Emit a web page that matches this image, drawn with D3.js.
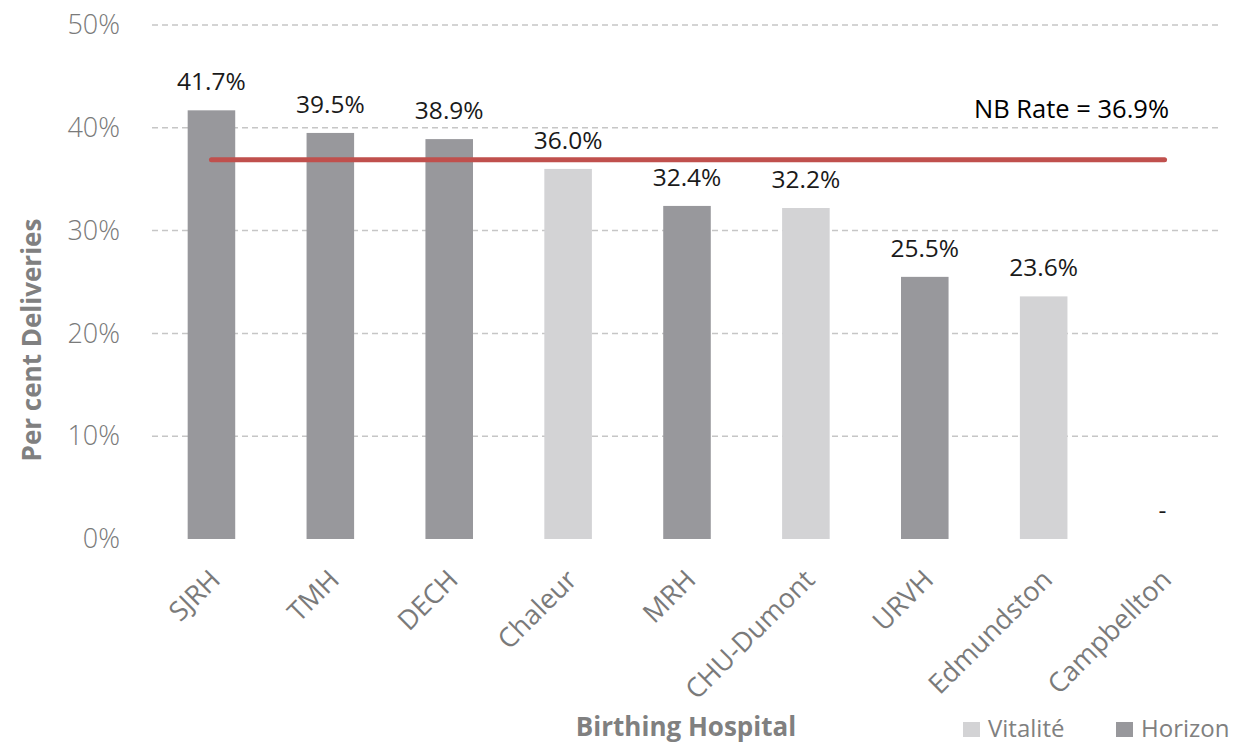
<!DOCTYPE html>
<html><head><meta charset="utf-8">
<script src="https://cdn.jsdelivr.net/npm/d3@7"></script>
<style>body{margin:0;background:#fff;font-family:"Open Sans",sans-serif;}</style>
</head><body><svg id="c" width="1251" height="744"></svg>
<script>
const categories = ["SJRH","TMH","DECH","Chaleur","MRH","CHU-Dumont","URVH","Edmundston","Campbellton"];
const values = [41.7, 39.5, 38.9, 36.0, 32.4, 32.2, 25.5, 23.6, null];
const groups = ["Horizon","Horizon","Horizon","Vitalité","Horizon","Vitalité","Horizon","Vitalité","Vitalité"];
const yTicks = [0, 10, 20, 30, 40, 50];
const nbRate = 36.9;
const legendItems = ["Vitalité","Horizon"];
const colors = {"Horizon":"#98989c","Vitalité":"#d3d3d5"};

const svg = d3.select("#c");
const m = {l:152, r:1222, t:25, b:539};
const x = d3.scaleBand().domain(categories).range([m.l, m.r]).paddingInner(0.6).paddingOuter(0.3);
const y = d3.scaleLinear().domain([0,50]).range([m.b, m.t]);

// grid
svg.append("g").selectAll("line").data(yTicks.filter(d=>d>0)).join("line")
  .attr("x1", m.l).attr("x2", m.r).attr("y1", d=>y(d)).attr("y2", d=>y(d))
  .attr("stroke","#c6c6c6").attr("stroke-width",1.5).attr("stroke-dasharray","6,4");

// y axis labels
const yAxis = svg.append("g").attr("transform",`translate(${m.l},0)`)
  .call(d3.axisLeft(y).tickValues(yTicks).tickFormat(d=>d+"%").tickSize(0).tickPadding(32));
yAxis.select(".domain").remove();
yAxis.selectAll("text").attr("font-family","Open Sans").attr("font-size",27).attr("font-weight",300).attr("fill","#7a7a7a");

// bars
svg.append("g").selectAll("rect").data(categories.map((c,i)=>({c,v:values[i],g:groups[i]})).filter(d=>d.v!=null)).join("rect")
  .attr("x", d=>x(d.c)).attr("width", x.bandwidth())
  .attr("y", d=>y(d.v)).attr("height", d=>y(0)-y(d.v))
  .attr("fill", d=>colors[d.g]);

// value labels
svg.append("g").selectAll("text").data(categories.map((c,i)=>({c,v:values[i]}))).join("text")
  .attr("x", d=>x(d.c)+x.bandwidth()/2).attr("y", d=>y(d.v==null?0:d.v)-20)
  .attr("text-anchor","middle").attr("font-size",24.5).attr("font-weight",400).attr("fill","#1a1a1a")
  .text(d=>d.v==null?"-":d.v.toFixed(1)+"%");

// NB rate line
svg.append("line")
  .attr("x1", x(categories[0])+x.bandwidth()/2).attr("x2", x(categories[categories.length-1])+x.bandwidth()/2+2)
  .attr("y1", y(nbRate)).attr("y2", y(nbRate))
  .attr("stroke","#c0504d").attr("stroke-width",5).attr("stroke-linecap","round");
svg.append("text").attr("x",1169).attr("y",118).attr("text-anchor","end")
  .attr("font-size",25.5).attr("font-weight",400).attr("fill","#000").text("NB Rate = "+nbRate.toFixed(1)+"%");

// x labels
svg.append("g").selectAll("text").data(categories).join("text")
  .attr("transform", d=>`translate(${x(d)+x.bandwidth()/2-3},${568}) rotate(-45)`)
  .attr("text-anchor","end").attr("dy","0.7em")
  .attr("font-size",27).attr("font-weight",400).attr("fill","#7a7a7a").text(d=>d);

// axis titles
svg.append("text").attr("transform","translate(41,340) rotate(-90)").attr("text-anchor","middle")
  .attr("font-size",26).attr("font-weight","bold").attr("fill","#808080").text("Per cent Deliveries");
svg.append("text").attr("x",686).attr("y",736).attr("text-anchor","middle")
  .attr("font-size",26).attr("font-weight","bold").attr("fill","#808080").text("Birthing Hospital");

// legend
const lx = [963, 1116];
const lg = svg.append("g").selectAll("g").data(legendItems).join("g")
  .attr("transform",(d,i)=>`translate(${lx[i]},722)`);
lg.append("rect").attr("width",17).attr("height",15).attr("fill",d=>colors[d]);
lg.append("text").attr("x",25).attr("y",15).attr("font-size",24).attr("fill","#808080").text(d=>d);
</script></body></html>
